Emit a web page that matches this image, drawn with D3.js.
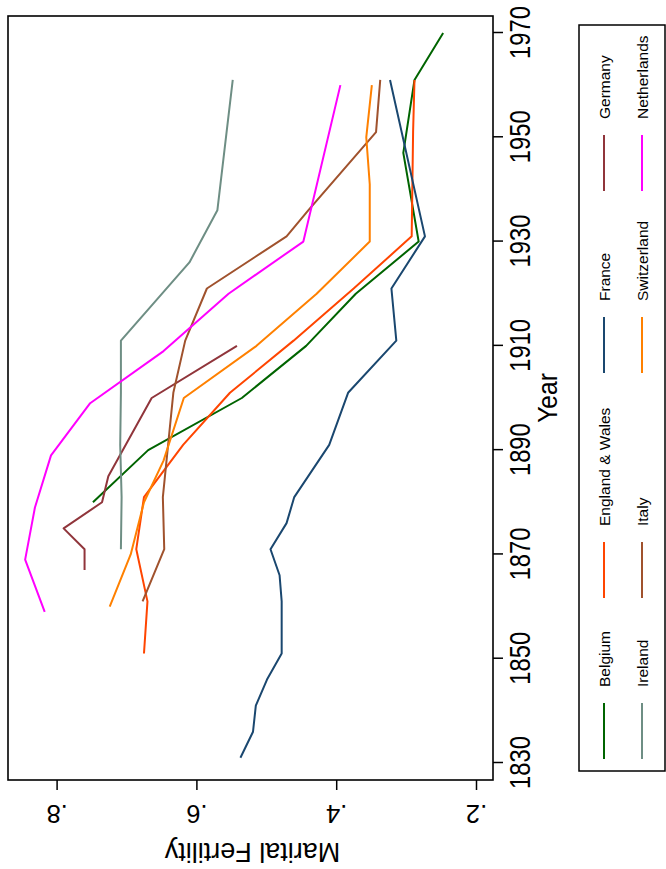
<!DOCTYPE html>
<html>
<head>
<meta charset="utf-8">
<script src="https://cdn.jsdelivr.net/npm/d3@7"></script>
<style>
  body { margin: 0; background: #fff; }
  svg { display: block; }
  text { font-family: Arial, "Liberation Sans", Helvetica, sans-serif; fill: #000; }
</style>
</head>
<body>
<svg id="chart" width="666" height="869"></svg>
<script>
// ---------------- data ----------------
const countries = ["Belgium", "England & Wales", "France", "Germany",
                   "Ireland", "Italy", "Switzerland", "Netherlands"];
const seriesColors = ["#006400", "#ff4500", "#1a476f", "#90353b",
                      "#6e8e84", "#a0522d", "#ff8000", "#ff00ff"];

const belgium = [[1880,0.748],[1890,0.669],[1900,0.535],[1910,0.443],[1920,0.372],
                 [1930,0.282],[1947,0.304],[1961,0.288],[1970,0.247]];
const englandWales = [[1851,0.675],[1861,0.670],[1871,0.686],[1881,0.675],[1891,0.619],
                      [1901,0.552],[1911,0.461],[1921,0.375],[1931,0.292],[1951,0.290],[1961,0.288]];
const france = [[1831,0.537],[1836,0.519],[1841,0.515],[1846,0.499],[1851,0.478],[1856,0.478],
                [1861,0.478],[1866,0.481],[1871,0.494],[1876,0.471],[1881,0.460],[1891,0.410],
                [1901,0.383],[1911,0.314],[1921,0.321],[1931,0.273],[1961,0.323]];
const germany = [[1867,0.760],[1871,0.760],[1875,0.790],[1880,0.735],[1885,0.726],
                 [1900,0.664],[1910,0.542]];
const ireland = [[1871,0.708],[1881,0.707],[1891,0.709],[1901,0.708],[1911,0.708],
                 [1926,0.610],[1936,0.570],[1961,0.548]];
const italy = [[1861,0.677],[1871,0.646],[1881,0.648],[1901,0.633],[1911,0.616],
               [1921,0.585],[1931,0.471],[1936,0.440],[1951,0.343],[1961,0.337]];
const switzerland = [[1860,0.724],[1870,0.694],[1880,0.675],[1888,0.647],[1900,0.618],
                     [1910,0.514],[1920,0.428],[1930,0.352],[1941,0.352],[1950,0.357],[1960,0.349]];
const netherlands = [[1859,0.817],[1869,0.845],[1879,0.831],[1889,0.808],[1899,0.752],
                     [1909,0.647],[1920,0.554],[1930,0.447],[1960,0.394]];

const seriesData = [belgium, englandWales, france, germany, ireland, italy, switzerland, netherlands];

const yearTicks = [1830, 1850, 1870, 1890, 1910, 1930, 1950, 1970];
const valueTicks = [0.2, 0.4, 0.6, 0.8];
const valueTickLabels = [".2", ".4", ".6", ".8"];
const xTitle = "Year";
const yTitle = "Marital Fertility";

// ---------------- layout (unrotated frame: 869 wide x 666 tall) ----------------
const W = 869, H = 666;
const frame = { left: 89, right: 853, top: 8, bottom: 493 };

const svg = d3.select("#chart");
const g = svg.append("g").attr("transform", `translate(0,${W}) rotate(-90)`);

const x = d3.scaleLinear().domain([1830, 1970]).range([106, 836]);
const y = d3.scaleLinear().domain([0.2, 0.8]).range([476, 56.6]);

// plot frame
g.append("rect")
  .attr("x", frame.left).attr("y", frame.top)
  .attr("width", frame.right - frame.left).attr("height", frame.bottom - frame.top)
  .attr("fill", "none").attr("stroke", "#000").attr("stroke-width", 1.6);

// series lines
const line = d3.line().x(d => x(d[0])).y(d => y(d[1]));
g.append("g").selectAll("path")
  .data(seriesData)
  .join("path")
  .attr("d", line)
  .attr("fill", "none")
  .attr("stroke", (d, i) => seriesColors[i])
  .attr("stroke-width", 2)
  .attr("stroke-linejoin", "round");

// year axis (bottom of unrotated frame)
const xAxis = g.append("g")
  .attr("transform", `translate(0,${frame.bottom})`)
  .call(d3.axisBottom(x).tickValues(yearTicks).tickSize(10).tickSizeOuter(0).tickFormat(d3.format("d")));
xAxis.select(".domain").remove();
xAxis.selectAll(".tick line").attr("stroke", "#000").attr("stroke-width", 1.5);
xAxis.selectAll(".tick text")
  .attr("y", null).attr("dy", 0)
  .attr("transform", "translate(0,37) scale(0.82,1)")
  .attr("font-size", 29)
  .style("font-family", 'Arial, "Liberation Sans", sans-serif')
  .attr("fill", "#000");

// value axis (left of unrotated frame)
const yAxis = g.append("g")
  .attr("transform", `translate(${frame.left},0)`)
  .call(d3.axisLeft(y).tickValues(valueTicks).tickSize(10).tickSizeOuter(0)
        .tickFormat((d, i) => valueTickLabels[i]));
yAxis.select(".domain").remove();
yAxis.selectAll(".tick line").attr("stroke", "#000").attr("stroke-width", 1.5);
yAxis.selectAll(".tick text")
  .attr("x", null).attr("dy", 0)
  .attr("transform", "translate(-25,0) rotate(-90)")
  .attr("text-anchor", "middle")
  .attr("font-size", 25.5)
  .style("font-family", 'Arial, "Liberation Sans", sans-serif')
  .attr("fill", "#000");

// axis titles
g.append("text")
  .attr("transform", `translate(${(frame.left + frame.right) / 2},557) scale(0.88,1)`)
  .attr("text-anchor", "middle")
  .attr("font-size", 28)
  .text(xTitle);

g.append("text")
  .attr("transform", `translate(26,${(frame.top + frame.bottom) / 2 + 2}) rotate(-90)`)
  .attr("text-anchor", "middle")
  .attr("font-size", 27)
  .text(yTitle);

// legend
const legendBox = { left: 98, right: 844, top: 579, bottom: 665 };
g.append("rect")
  .attr("x", legendBox.left).attr("y", legendBox.top)
  .attr("width", legendBox.right - legendBox.left).attr("height", legendBox.bottom - legendBox.top)
  .attr("fill", "none").attr("stroke", "#000").attr("stroke-width", 1.5);

const colStarts = [110, 271, 496, 678];
const rowYs = [604, 642];
const keyLen = 56, textGap = 16;

const items = g.append("g").selectAll("g")
  .data(countries)
  .join("g")
  .attr("transform", (d, i) => `translate(${colStarts[i % 4]},${rowYs[Math.floor(i / 4)]})`);
items.append("line")
  .attr("x1", 0).attr("x2", keyLen).attr("y1", 0).attr("y2", 0)
  .attr("stroke", (d, i) => seriesColors[i]).attr("stroke-width", 2);
items.append("text")
  .attr("x", keyLen + textGap).attr("y", 5.5)
  .attr("font-size", 15.5)
  .text(d => d);
</script>
</body>
</html>
